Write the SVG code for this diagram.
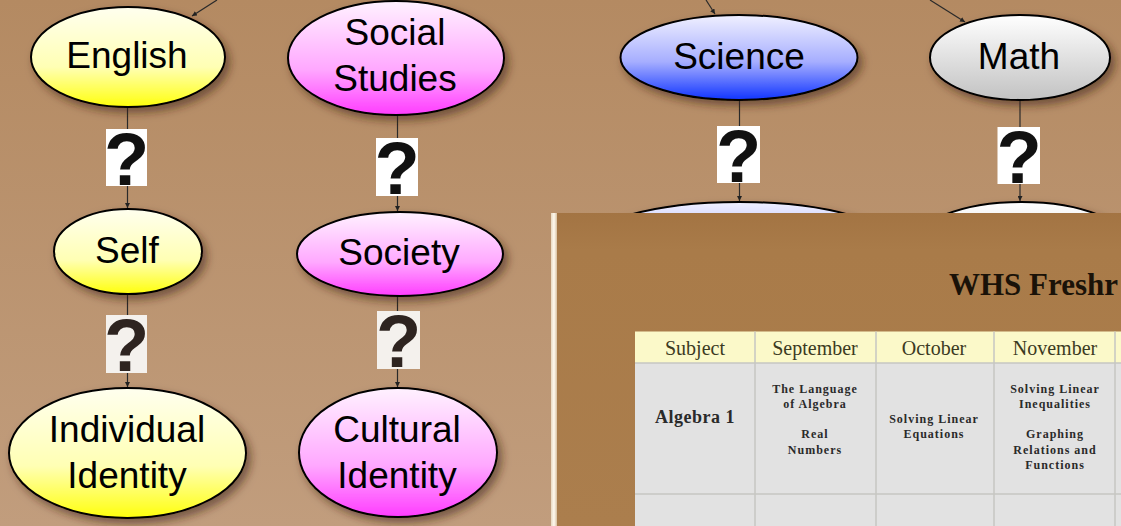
<svg xmlns="http://www.w3.org/2000/svg" width="1121" height="526" viewBox="0 0 1121 526">
<defs>
<linearGradient id="bg" x1="0" y1="0" x2="0" y2="1">
<stop offset="0" stop-color="#b48a62"/><stop offset="1" stop-color="#c19d7d"/>
</linearGradient>
<linearGradient id="gy" x1="0" y1="0" x2="0" y2="1">
<stop offset="0" stop-color="#ffffef"/><stop offset="0.6" stop-color="#ffffb4"/><stop offset="1" stop-color="#ffff0c"/>
</linearGradient>
<linearGradient id="gp" x1="0" y1="0" x2="0" y2="1">
<stop offset="0" stop-color="#fff2ff"/><stop offset="0.6" stop-color="#ffa8ff"/><stop offset="1" stop-color="#ff3cff"/>
</linearGradient>
<linearGradient id="gb" x1="0" y1="0" x2="0" y2="1">
<stop offset="0" stop-color="#f0f0ff"/><stop offset="0.55" stop-color="#a6aeff"/><stop offset="1" stop-color="#1034ff"/>
</linearGradient>
<linearGradient id="gg" x1="0" y1="0" x2="0" y2="1">
<stop offset="0" stop-color="#ffffff"/><stop offset="1" stop-color="#c2c2c2"/>
</linearGradient>
<linearGradient id="panelbg" x1="0" y1="0" x2="0" y2="1">
<stop offset="0" stop-color="#a37443"/><stop offset="0.12" stop-color="#a97b49"/><stop offset="1" stop-color="#ab7e4d"/>
</linearGradient>
<linearGradient id="edge" x1="0" y1="0" x2="1" y2="0">
<stop offset="0" stop-color="#e8d8c0"/><stop offset="0.5" stop-color="#fffaf0"/><stop offset="1" stop-color="#d8c0a0"/>
</linearGradient>
<filter id="sh" x="-20%" y="-20%" width="150%" height="150%">
<feDropShadow dx="4" dy="5" stdDeviation="4" flood-color="#3a2410" flood-opacity="0.55"/>
</filter>
<marker id="arr" viewBox="0 0 10 10" refX="10" refY="5" markerWidth="5" markerHeight="5" markerUnits="userSpaceOnUse" orient="auto">
<path d="M0,0 L10,5 L0,10 z" fill="#222"/>
</marker>
<clipPath id="pclip"><rect x="551" y="213" width="570" height="313"/></clipPath>
<style>
.node ellipse{stroke:#000;stroke-width:2;filter:url(#sh)}
.lbl{font-family:"Liberation Sans",Arial,sans-serif;font-size:37px;fill:#000;text-anchor:middle}
.edge{stroke:#2a2a2a;stroke-width:1.2;fill:none;marker-end:url(#arr)}
.q{font-family:"Liberation Sans",Arial,sans-serif;font-weight:bold;font-size:74px;text-anchor:middle;fill:#111}
.qb{fill:#fff}
.qb2{fill:#f4f1ed}
.q2{fill:#2e2420}
.th{font-family:"Liberation Serif","Times New Roman",serif;font-size:20px;fill:#3b3a22;text-anchor:middle}
.td{font-family:"Liberation Serif","Times New Roman",serif;font-weight:bold;font-size:12px;letter-spacing:1px;fill:#2a2a2a;text-anchor:middle}
</style>
</defs>
<rect x="0" y="0" width="1121" height="526" fill="url(#bg)"/>

<g id="connectors">
<line class="edge" x1="217" y1="0" x2="192" y2="16"/>
<line class="edge" x1="706" y1="0" x2="715" y2="14"/>
<line class="edge" x1="930" y1="0" x2="965" y2="22"/>
<line class="edge" x1="127.5" y1="107" x2="127.5" y2="208"/>
<line class="edge" x1="127.5" y1="294" x2="127.5" y2="387"/>
<line class="edge" x1="397.5" y1="115" x2="397.5" y2="211"/>
<line class="edge" x1="397.5" y1="296" x2="397.5" y2="387"/>
<line class="edge" x1="739.5" y1="100" x2="739.5" y2="201"/>
<line class="edge" x1="1020" y1="100" x2="1020" y2="201"/>
<g id="q1"><rect class="qb" x="106" y="129" width="41" height="57"/><text class="q" x="126.5" y="185">?</text></g>
<g id="q2"><rect class="qb" x="376" y="138" width="42" height="58"/><text class="q" x="397" y="194">?</text></g>
<g id="q3"><rect class="qb2" x="106" y="315" width="41" height="58"/><text class="q q2" x="126.5" y="371">?</text></g>
<g id="q4"><rect class="qb2" x="377" y="311" width="43" height="58"/><text class="q q2" x="398.5" y="367">?</text></g>
<g id="q5"><rect class="qb" x="717" y="126" width="43" height="57"/><text class="q" x="738.5" y="182">?</text></g>
<g id="q6"><rect class="qb" x="997.5" y="127" width="42.5" height="57"/><text class="q" x="1019" y="183">?</text></g>
</g>

<g id="english" class="node"><ellipse cx="128" cy="57" rx="97" ry="50" fill="url(#gy)"/><text class="lbl" x="127" y="68">English</text></g>
<g id="social-studies" class="node"><ellipse cx="396" cy="58" rx="108" ry="57" fill="url(#gp)"/><text class="lbl" x="395" y="45">Social</text><text class="lbl" x="395" y="91">Studies</text></g>
<g id="science" class="node"><ellipse cx="739" cy="57.5" rx="118.5" ry="42.5" fill="url(#gb)"/><text class="lbl" x="739" y="69">Science</text></g>
<g id="math" class="node"><ellipse cx="1020" cy="57.5" rx="90" ry="42.5" fill="url(#gg)"/><text class="lbl" x="1019" y="69">Math</text></g>
<g id="self" class="node"><ellipse cx="128" cy="251.5" rx="74" ry="42.5" fill="url(#gy)"/><text class="lbl" x="127" y="263">Self</text></g>
<g id="society" class="node"><ellipse cx="400" cy="254" rx="103" ry="42" fill="url(#gp)"/><text class="lbl" x="399" y="265">Society</text></g>
<g id="individual-identity" class="node"><ellipse cx="127.5" cy="453" rx="118.5" ry="65" fill="url(#gy)"/><text class="lbl" x="127" y="442">Individual</text><text class="lbl" x="127" y="488">Identity</text></g>
<g id="cultural-identity" class="node"><ellipse cx="398" cy="452.5" rx="99" ry="64.5" fill="url(#gp)"/><text class="lbl" x="397" y="442">Cultural</text><text class="lbl" x="397" y="488">Identity</text></g>
<g id="science-child" class="node"><ellipse cx="739.5" cy="247" rx="157" ry="45" fill="url(#gb)"/></g>
<g id="math-child" class="node"><ellipse cx="1021.5" cy="247" rx="110" ry="45" fill="url(#gg)"/></g>

<g id="panel" clip-path="url(#pclip)">
<rect x="551" y="213" width="570" height="313" fill="url(#panelbg)"/>
<rect x="551" y="213" width="6" height="313" fill="url(#edge)"/>
<text x="949" y="295" font-family="'Liberation Serif','Times New Roman',serif" font-weight="bold" font-size="31" fill="#1a1208">WHS Freshr</text>
<rect x="635" y="331.5" width="490" height="31.5" fill="#fbf9c9"/>
<rect x="635" y="363" width="490" height="170" fill="#e2e2e2"/>
<g stroke="#c6c6c2" stroke-width="1.5">
<line x1="755" y1="331.5" x2="755" y2="526"/>
<line x1="876" y1="331.5" x2="876" y2="526"/>
<line x1="994" y1="331.5" x2="994" y2="526"/>
<line x1="1115" y1="331.5" x2="1115" y2="526"/>
<line x1="635" y1="363" x2="1121" y2="363"/>
<line x1="635" y1="494" x2="1121" y2="494"/>
</g>
<text class="th" x="695" y="355">Subject</text>
<text class="th" x="815" y="355">September</text>
<text class="th" x="934" y="355">October</text>
<text class="th" x="1055" y="355">November</text>
<text x="695" y="423" font-family="'Liberation Serif','Times New Roman',serif" font-weight="bold" font-size="18" fill="#2a2a2a" text-anchor="middle" letter-spacing="0.5">Algebra 1</text>
<text class="td" x="815" y="393">The Language</text>
<text class="td" x="815" y="408">of Algebra</text>
<text class="td" x="815" y="438">Real</text>
<text class="td" x="815" y="454">Numbers</text>
<text class="td" x="934" y="423">Solving Linear</text>
<text class="td" x="934" y="438">Equations</text>
<text class="td" x="1055" y="393">Solving Linear</text>
<text class="td" x="1055" y="408">Inequalities</text>
<text class="td" x="1055" y="438">Graphing</text>
<text class="td" x="1055" y="454">Relations and</text>
<text class="td" x="1055" y="469">Functions</text>
</g>
</svg>
